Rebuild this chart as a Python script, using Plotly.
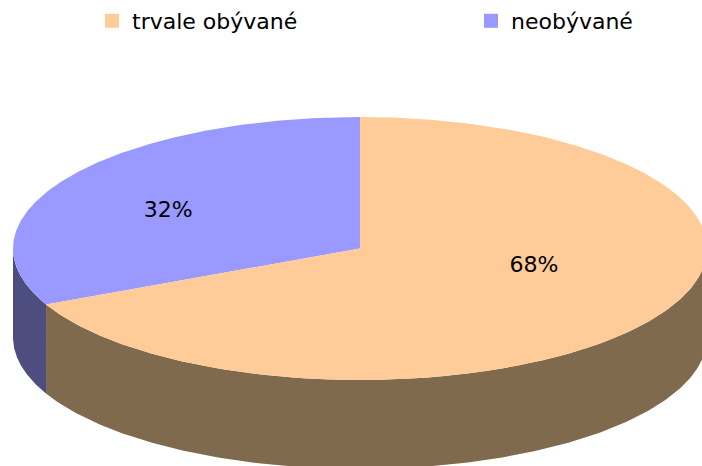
import numpy as np
import plotly.graph_objects as go

# ---- data ----
labels = ["trvale obývané", "neobývané"]
values = [68, 32]
top_colors = ["#FFCC99", "#9999FF"]
side_colors = ["#806A4E", "#4D4D80"]

# ---- geometry / style (pixel-like coordinate space) ----
W, H = 702, 466
cx, cy, rx, ry, depth = 360, 248.5, 347, 131.5, 89
start_angle = 90.0  # degrees, 12 o'clock
label_frac = {0: (0.594, 0.258), 1: (0.655, 0.53)}
legend_x = {0: 92, 1: 471}
FONT = "DejaVu Sans"


def pt(t_deg, dz=0.0):
    t = np.radians(t_deg)
    return cx + rx * np.cos(t), cy - ry * np.sin(t) + dz


fig = go.Figure()

total = sum(values)
b_end = start_angle + values[1] / total * 360
spans = [(1, start_angle, b_end), (0, b_end, start_angle + 360)]

# side faces (front half only: 180..360 deg)
for idx, a0, a1 in spans:
    lo, hi = max(a0, 180), min(a1, 360)
    if hi <= lo:
        continue
    ts = np.linspace(lo, hi, 200)
    xs_top, ys_top = pt(ts)
    xs_bot, ys_bot = pt(ts[::-1], depth)
    fig.add_trace(go.Scatter(x=np.concatenate([xs_top, xs_bot]),
                             y=np.concatenate([ys_top, ys_bot]),
                             fill="toself", mode="lines", line=dict(width=0),
                             fillcolor=side_colors[idx], hoverinfo="skip", showlegend=False))

# top faces
for idx, a0, a1 in spans:
    ts = np.linspace(a0, a1, 400)
    xs, ys = pt(ts)
    fig.add_trace(go.Scatter(x=np.concatenate([[cx], xs, [cx]]),
                             y=np.concatenate([[cy], ys, [cy]]),
                             fill="toself", mode="lines", line=dict(width=0),
                             fillcolor=top_colors[idx], hoverinfo="skip", showlegend=False))

# percentage labels
for idx, a0, a1 in spans:
    mid = np.radians((a0 + a1) / 2)
    fx, fy = label_frac[idx]
    lx, ly = cx + rx * fx * np.cos(mid), cy - ry * fy * np.sin(mid)
    fig.add_trace(go.Scatter(x=[lx], y=[ly], mode="text",
                             text=[f"{round(values[idx] / total * 100)}%"],
                             textfont=dict(family=FONT, size=22, color="#000000"),
                             hoverinfo="skip", showlegend=False))

# legend entries (one legend each, to place them like the original)
for idx in range(len(labels)):
    fig.add_trace(go.Scatter(x=[None], y=[None], mode="markers", name=labels[idx],
                             legend="legend" if idx == 0 else "legend2",
                             marker=dict(symbol="square", size=14, color=top_colors[idx])))

leg_common = dict(orientation="h", xanchor="left", y=1, yanchor="top",
                  font=dict(family=FONT, size=22, color="#000000"),
                  bgcolor="rgba(0,0,0,0)")

fig.update_layout(
    width=W, height=H,
    margin=dict(l=0, r=0, t=0, b=0),
    paper_bgcolor="white", plot_bgcolor="white",
    xaxis=dict(range=[0, W], visible=False, fixedrange=True),
    yaxis=dict(range=[H, 0], visible=False, fixedrange=True),
    showlegend=True,
    legend=dict(x=legend_x[0] / W, **leg_common),
    legend2=dict(x=legend_x[1] / W, **leg_common),
)

fig.write_html("out.html", config={"displayModeBar": False},
               post_script="document.body.style.margin='0';document.body.style.overflow='hidden';")
